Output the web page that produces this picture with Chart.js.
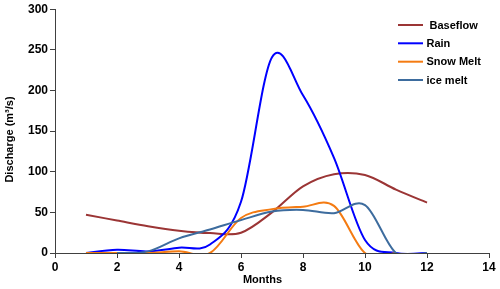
<!DOCTYPE html>
<html>
<head>
<meta charset="utf-8">
<script src="https://cdn.jsdelivr.net/npm/chart.js@4.4.1/dist/chart.umd.min.js"></script>
<style>
  html, body { margin: 0; padding: 0; background: #ffffff; }
  #wrap { width: 500px; height: 289px; position: relative; }
</style>
</head>
<body>
<div id="wrap"><canvas id="c" width="500" height="289"></canvas></div>
<script>
// ---- data ----
const months    = [1, 2, 3, 4, 5, 6, 7, 8, 9, 10, 11, 12];
const baseflow  = [47, 40, 33, 27.5, 24.5, 25, 50, 82, 97, 96, 78, 62];
const rain      = [0, 4, 2, 6.5, 10.5, 63, 241, 194, 117, 16, 0, 0];
const snowMelt  = [0, 0, 0, 2, 0, 43, 54, 57, 58, 0, 0, null];
const iceMelt   = [null, 0, 2, 18, 29, 40.5, 51, 53, 49, 59, 0, 0];
const seriesNames = [' Baseflow', 'Rain', 'Snow Melt', 'ice melt'];
const seriesColors = ['#9b3535', '#0000ff', '#f47b12', '#3d6c9e'];
const xTicks = [0, 2, 4, 6, 8, 10, 12, 14];
const yTicks = [0, 50, 100, 150, 200, 250, 300];
const xTitle = 'Months';
const yTitle = 'Discharge (m³/s)';

const allSeries = [baseflow, rain, snowMelt, iceMelt];
const toPoints = arr => months.map((m, i) => ({ x: m, y: arr[i] }));

const FONT = "'Liberation Sans', Arial, sans-serif";

// Spreadsheet-style smoothing (uniform Catmull-Rom) applied to the
// control points of the library's own line elements.
const smoothPlugin = {
  id: 'catmullSmooth',
  beforeDatasetDraw(chart, args) {
    const meta = args.meta;
    const line = meta.dataset;
    if (!line) return;
    line.updateControlPoints(chart.chartArea, meta.iScale.axis);
    const pts = meta.data;
    let run = [];
    const flush = () => {
      const n = run.length;
      for (let k = 0; k < n; k++) {
        const p = run[k];
        const p0 = run[Math.max(0, k - 1)];
        const p2 = run[Math.min(n - 1, k + 1)];
        const dx = (p2.x - p0.x) / 6, dy = (p2.y - p0.y) / 6;
        p.cp1x = p.x - dx; p.cp1y = p.y - dy;
        p.cp2x = p.x + dx; p.cp2y = p.y + dy;
      }
      run = [];
    };
    pts.forEach(p => { if (p.skip) flush(); else run.push(p); });
    flush();
  }
};

const decorPlugin = {
  id: 'decor',
  afterDraw(chart) {
    const ctx = chart.ctx;
    ctx.save();
    // legend inside the plot area
    const x0 = 398, x1 = 423, tx = 426.5;
    const ys = [25, 43.3, 61.7, 80];
    ctx.font = "bold 11px " + FONT;
    ctx.textBaseline = 'middle';
    ctx.textAlign = 'left';
    chart.data.datasets.forEach((ds, i) => {
      ctx.strokeStyle = ds.borderColor;
      ctx.lineWidth = 2;
      ctx.beginPath();
      ctx.moveTo(x0, ys[i]);
      ctx.lineTo(x1, ys[i]);
      ctx.stroke();
      ctx.fillStyle = '#000';
      ctx.fillText(ds.label, tx, ys[i] + 0.5);
    });
    // axis titles
    ctx.fillStyle = '#000';
    ctx.textAlign = 'center';
    ctx.textBaseline = 'middle';
    ctx.fillText(xTitle, 262.5, 280);
    ctx.translate(10, 139.5);
    ctx.rotate(-Math.PI / 2);
    ctx.fillText(yTitle, 0, 0);
    ctx.restore();
  }
};

new Chart(document.getElementById('c'), {
  type: 'line',
  data: {
    datasets: allSeries.map((arr, i) => ({
      label: seriesNames[i],
      data: toPoints(arr),
      borderColor: seriesColors[i],
      backgroundColor: seriesColors[i],
      borderWidth: 2,
      pointRadius: 0,
      tension: 0.4,
      fill: false,
      spanGaps: false,
      order: 4 - i
    }))
  },
  options: {
    responsive: false,
    animation: false,
    events: [],
    elements: { line: { capBezierPoints: false } },
    layout: { padding: { left: 0, right: 11, top: 9, bottom: 0 } },
    plugins: { legend: { display: false }, tooltip: { enabled: false } },
    scales: {
      x: {
        type: 'linear',
        min: 0, max: 14,
        afterBuildTicks: s => { s.ticks = xTicks.map(v => ({ value: v })); },
        afterFit: s => { s.height = 36; },
        grid: { display: true, drawOnChartArea: false, drawTicks: true, tickLength: 5, color: '#404040' },
        border: { display: true, color: '#404040', width: 1 },
        ticks: { color: '#000', font: { family: FONT, size: 12, weight: 'bold' }, padding: 2, maxRotation: 0 },
        title: { display: false }
      },
      y: {
        type: 'linear',
        min: 0, max: 300,
        afterBuildTicks: s => { s.ticks = yTicks.map(v => ({ value: v })); },
        afterFit: s => { s.width = 55; },
        grid: { display: true, drawOnChartArea: false, drawTicks: true, tickLength: 5, color: '#404040' },
        border: { display: true, color: '#404040', width: 1 },
        ticks: { color: '#000', font: { family: FONT, size: 12, weight: 'bold' }, padding: 2 },
        title: { display: false }
      }
    }
  },
  plugins: [smoothPlugin, decorPlugin]
});
</script>
</body>
</html>
